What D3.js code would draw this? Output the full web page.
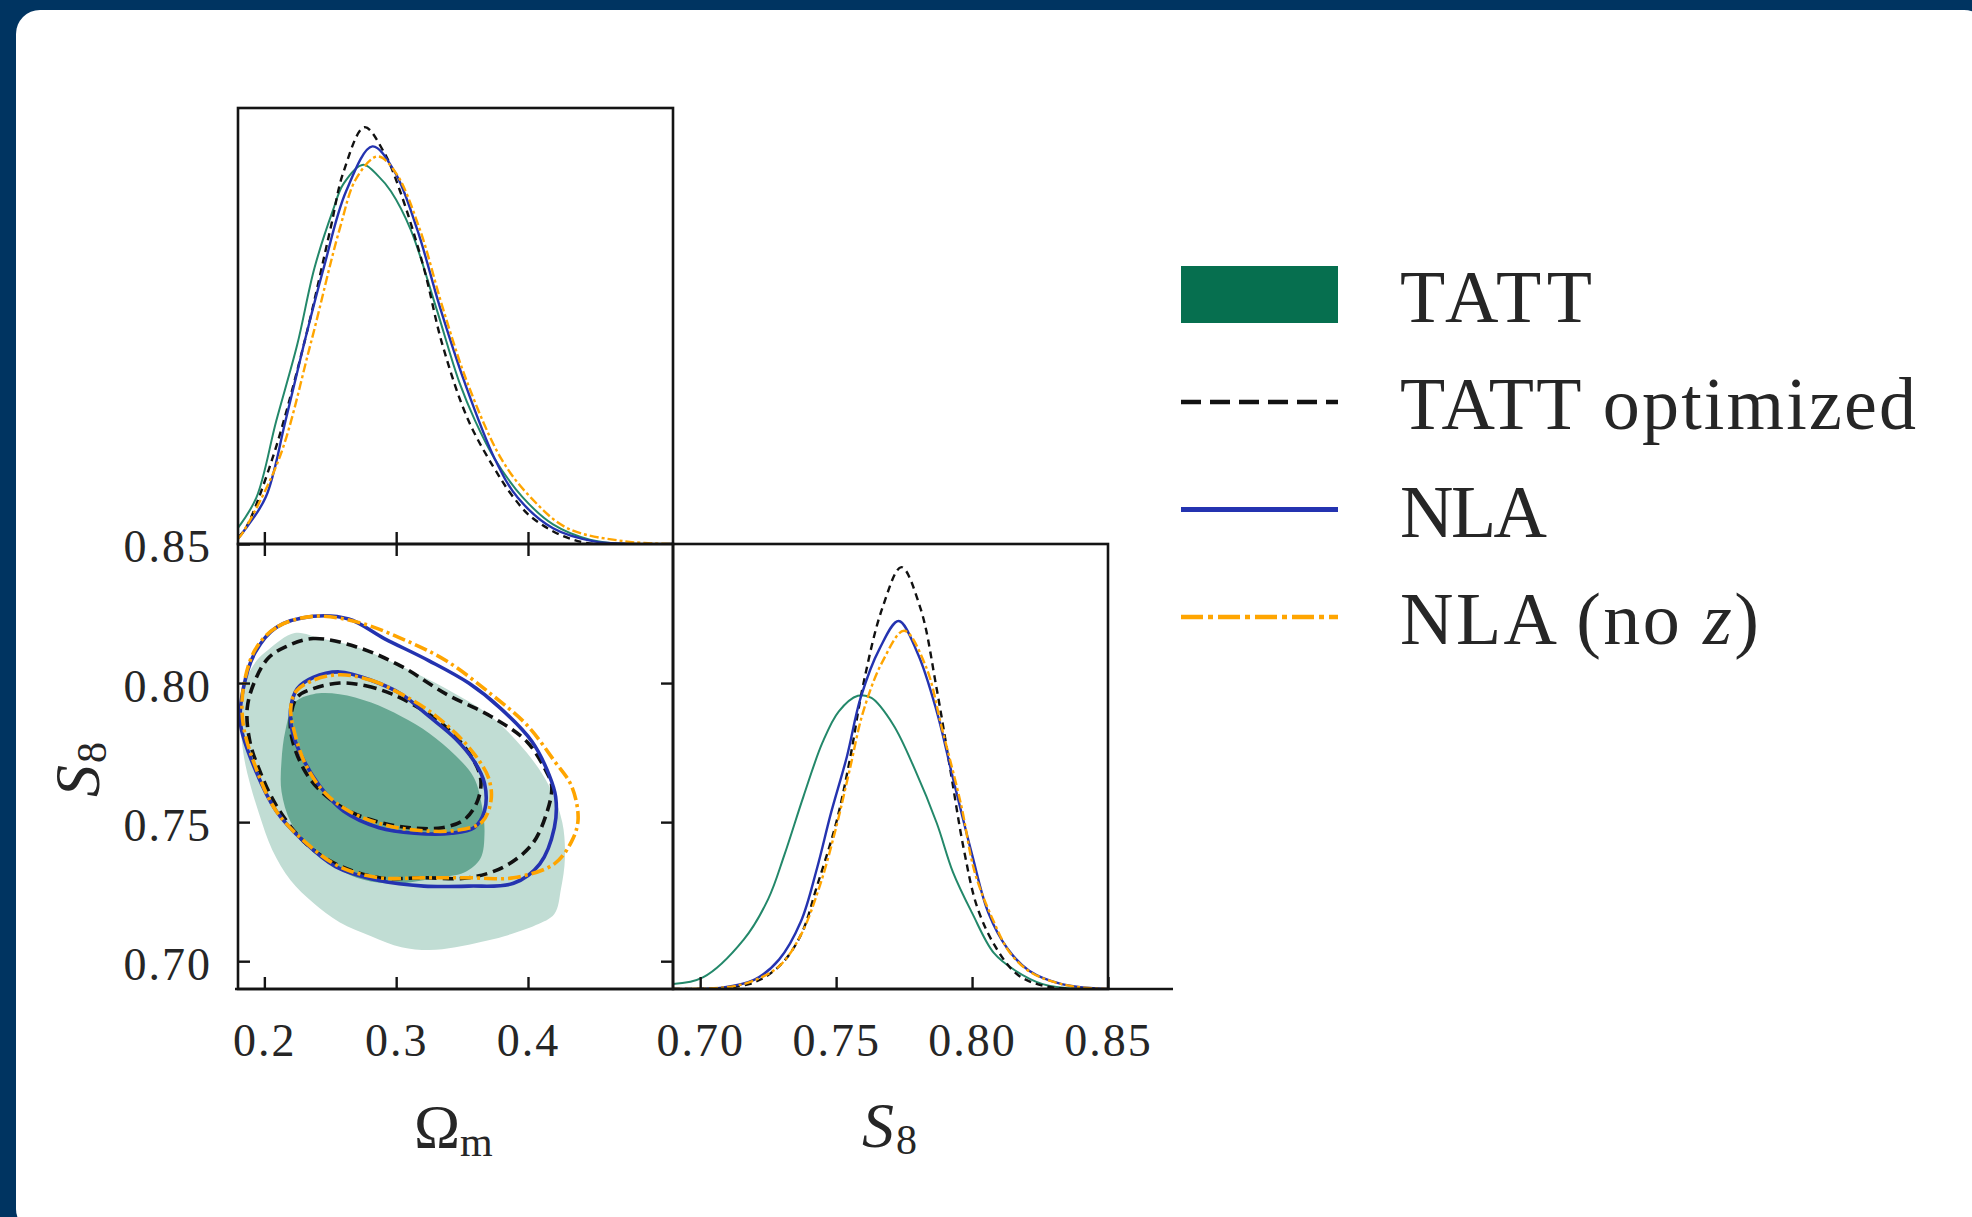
<!DOCTYPE html>
<html>
<head>
<meta charset="utf-8">
<script src="https://cdn.jsdelivr.net/npm/d3@7"></script>
<style>
  html, body { margin: 0; padding: 0; background: #003461; }
  svg { display: block; }
</style>
</head>
<body>
<svg id="chart" width="1972" height="1217"></svg>
<script>
// ---------------- data ----------------
const seriesNames = ["TATT", "TATT optimized", "NLA", "NLA (no z)"];

const omegaRange = [0.18, 0.51];
const s8Range = [0.69, 0.85];
const omegaTicks = [0.2, 0.3, 0.4];
const s8Ticks = [0.70, 0.75, 0.80, 0.85];

// 1D marginal of Omega_m: [Omega_m, relative density]
const omTATT = [[0.180,0.037],[0.194,0.107],[0.209,0.282],[0.225,0.458],[0.238,0.633],[0.252,0.765],[0.260,0.826],[0.275,0.870],[0.287,0.842],[0.296,0.809],[0.311,0.721],[0.330,0.545],[0.348,0.370],[0.360,0.282],[0.375,0.194],[0.396,0.107],[0.419,0.045],[0.447,0.010],[0.474,0.0],[0.510,0.0]];
const omOpt = [[0.180,0.015],[0.186,0.037],[0.206,0.195],[0.230,0.458],[0.250,0.721],[0.260,0.853],[0.276,0.956],[0.291,0.897],[0.303,0.809],[0.321,0.633],[0.335,0.458],[0.355,0.282],[0.379,0.151],[0.389,0.107],[0.402,0.063],[0.426,0.019],[0.450,0.0],[0.510,0.0]];
const omNLA = [[0.180,0.012],[0.184,0.028],[0.201,0.107],[0.216,0.282],[0.230,0.458],[0.245,0.633],[0.262,0.809],[0.282,0.912],[0.299,0.853],[0.316,0.721],[0.333,0.545],[0.352,0.370],[0.375,0.194],[0.392,0.107],[0.419,0.036],[0.450,0.006],[0.480,0.0],[0.510,0.0]];
const omNoZ = [[0.180,0.012],[0.184,0.028],[0.211,0.194],[0.235,0.458],[0.257,0.721],[0.270,0.840],[0.286,0.889],[0.300,0.850],[0.318,0.721],[0.335,0.545],[0.354,0.370],[0.380,0.194],[0.402,0.107],[0.430,0.036],[0.474,0.006],[0.510,0.0]];

// 1D marginal of S8: [S8, relative density]
const s8TATT = [[0.690,0.011],[0.701,0.026],[0.716,0.111],[0.725,0.202],[0.731,0.302],[0.738,0.433],[0.745,0.554],[0.751,0.624],[0.758,0.659],[0.763,0.654],[0.771,0.594],[0.779,0.493],[0.787,0.373],[0.793,0.262],[0.800,0.171],[0.808,0.081],[0.816,0.041],[0.826,0.011],[0.839,0.0],[0.850,0.0]];
const s8Opt = [[0.690,0.0],[0.718,0.011],[0.729,0.051],[0.737,0.121],[0.743,0.232],[0.750,0.373],[0.755,0.514],[0.760,0.685],[0.767,0.856],[0.774,0.948],[0.781,0.856],[0.787,0.674],[0.792,0.493],[0.797,0.313],[0.802,0.182],[0.809,0.091],[0.817,0.031],[0.828,0.005],[0.850,0.0]];
const s8NLA = [[0.690,0.0],[0.708,0.003],[0.720,0.021],[0.729,0.066],[0.737,0.151],[0.743,0.272],[0.748,0.393],[0.754,0.523],[0.759,0.654],[0.766,0.765],[0.773,0.827],[0.780,0.754],[0.787,0.624],[0.793,0.473],[0.800,0.302],[0.806,0.171],[0.813,0.091],[0.821,0.041],[0.833,0.011],[0.850,0.0]];
const s8NoZ = [[0.690,0.0],[0.708,0.003],[0.718,0.015],[0.729,0.051],[0.737,0.121],[0.744,0.232],[0.750,0.363],[0.755,0.493],[0.760,0.624],[0.767,0.735],[0.775,0.805],[0.783,0.725],[0.789,0.584],[0.796,0.413],[0.801,0.262],[0.808,0.151],[0.814,0.081],[0.822,0.036],[0.835,0.008],[0.850,0.0]];

// 2D credible regions in (Omega_m, S8): 68% and 95% contours
const tatt95 = [[0.203,0.812],[0.223,0.818],[0.243,0.816],[0.270,0.813],[0.304,0.806],[0.338,0.798],[0.372,0.788],[0.399,0.775],[0.416,0.763],[0.426,0.750],[0.428,0.737],[0.425,0.726],[0.420,0.717],[0.406,0.713],[0.382,0.709],[0.365,0.707],[0.345,0.705],[0.325,0.704],[0.304,0.705],[0.281,0.709],[0.257,0.714],[0.237,0.721],[0.220,0.729],[0.206,0.740],[0.196,0.753],[0.189,0.764],[0.184,0.775],[0.182,0.791],[0.186,0.801],[0.194,0.808]];
const tatt68 = [[0.223,0.793],[0.237,0.796],[0.257,0.796],[0.281,0.793],[0.304,0.788],[0.325,0.782],[0.345,0.774],[0.359,0.766],[0.365,0.756],[0.367,0.746],[0.364,0.737],[0.352,0.732],[0.331,0.730],[0.304,0.728],[0.291,0.728],[0.270,0.730],[0.250,0.735],[0.233,0.742],[0.220,0.750],[0.213,0.761],[0.213,0.772],[0.216,0.783]];
const opt95 = [[0.216,0.813],[0.237,0.816],[0.270,0.813],[0.304,0.806],[0.338,0.796],[0.372,0.788],[0.399,0.779],[0.413,0.769],[0.418,0.763],[0.414,0.753],[0.403,0.742],[0.382,0.734],[0.355,0.730],[0.321,0.730],[0.287,0.730],[0.254,0.735],[0.230,0.743],[0.209,0.756],[0.196,0.769],[0.189,0.779],[0.187,0.791],[0.193,0.801],[0.203,0.809]];
const opt68 = [[0.257,0.800],[0.277,0.799],[0.297,0.796],[0.321,0.790],[0.338,0.784],[0.355,0.775],[0.364,0.766],[0.362,0.758],[0.352,0.751],[0.335,0.748],[0.311,0.748],[0.287,0.750],[0.264,0.754],[0.243,0.761],[0.230,0.769],[0.221,0.780],[0.220,0.788],[0.225,0.795],[0.237,0.798]];
const nla95 = [[0.237,0.824],[0.209,0.820],[0.193,0.811],[0.184,0.798],[0.182,0.785],[0.193,0.769],[0.209,0.754],[0.230,0.743],[0.254,0.734],[0.287,0.729],[0.321,0.727],[0.355,0.727],[0.389,0.728],[0.409,0.735],[0.420,0.748],[0.421,0.759],[0.416,0.767],[0.403,0.779],[0.379,0.791],[0.355,0.800],[0.325,0.808],[0.291,0.816],[0.264,0.823]];
const nla68 = [[0.257,0.804],[0.281,0.801],[0.304,0.796],[0.325,0.788],[0.345,0.780],[0.359,0.772],[0.367,0.764],[0.367,0.754],[0.359,0.748],[0.342,0.746],[0.314,0.746],[0.287,0.748],[0.260,0.754],[0.242,0.763],[0.228,0.774],[0.221,0.783],[0.220,0.791],[0.225,0.798],[0.237,0.802]];
const noz95 = [[0.237,0.824],[0.209,0.820],[0.193,0.812],[0.184,0.798],[0.184,0.785],[0.194,0.769],[0.209,0.754],[0.233,0.742],[0.257,0.734],[0.287,0.730],[0.321,0.730],[0.355,0.730],[0.389,0.730],[0.420,0.735],[0.433,0.743],[0.438,0.751],[0.433,0.763],[0.420,0.772],[0.399,0.785],[0.372,0.796],[0.338,0.808],[0.304,0.816],[0.270,0.822]];
const noz68 = [[0.257,0.803],[0.281,0.801],[0.304,0.796],[0.325,0.790],[0.345,0.782],[0.360,0.774],[0.370,0.766],[0.372,0.758],[0.365,0.750],[0.345,0.747],[0.318,0.747],[0.291,0.749],[0.264,0.754],[0.245,0.761],[0.231,0.771],[0.223,0.782],[0.220,0.791],[0.224,0.797],[0.237,0.801]];

// ---------------- styles ----------------
const SERIF = "'Liberation Serif', 'Times New Roman', serif";
const TEXT = "#262626";
const lineStyles = {
  tatt: { stroke: "#23886a", width1d: 2.0 },
  opt:  { stroke: "#111111", width1d: 2.4, width2d: 3.6, dash1d: "7,5", dash2d: "11,6", dashLeg: "20,9", widthLeg: 4.5 },
  nla:  { stroke: "#2433b0", width1d: 2.4, width2d: 3.6, dash1d: null, dash2d: null, dashLeg: null, widthLeg: 5 },
  noz:  { stroke: "#ffa500", width1d: 2.4, width2d: 3.6, dash1d: "9,3,3,3", dash2d: "13,4,3,4", dashLeg: "22,5,5,5", widthLeg: 4.5 }
};
const fillLight = "#c1ddd4", fillDark = "#67a893", legendGreen = "#066f4f";

// ---------------- layout ----------------
const W = 1972, H = 1217;
const L = 238, M = 673, R = 1108, T = 108, MY = 544, B = 989;

const svg = d3.select("#chart");
svg.append("rect").attr("width", W).attr("height", H).attr("fill", "#003461");
svg.append("rect").attr("x", 16).attr("y", 10).attr("width", W).attr("height", H + 6)
   .attr("rx", 24).attr("fill", "#ffffff");

const xOm = d3.scaleLinear().domain(omegaRange).range([L, M]);
const yS8 = d3.scaleLinear().domain(s8Range).range([B, MY]);
const xS8 = d3.scaleLinear().domain(s8Range).range([M, R]);
const yTop = d3.scaleLinear().domain([0, 1]).range([MY, T]);
const yRight = d3.scaleLinear().domain([0, 1]).range([B, MY]);

const defs = svg.append("defs");
function clip(id, x, y, w, h) {
  defs.append("clipPath").attr("id", id).append("rect")
    .attr("x", x).attr("y", y).attr("width", w).attr("height", h);
}
clip("clipTop", L, T, M - L, MY - T);
clip("clip2d", L, MY, M - L, B - MY);
clip("clipRight", M, MY, R - M, B - MY);

// ---------------- 2D panel ----------------
const g2 = svg.append("g").attr("clip-path", "url(#clip2d)");
const contour = d3.line().x(d => xOm(d[0])).y(d => yS8(d[1]))
  .curve(d3.curveCatmullRomClosed.alpha(0.5));

g2.append("path").attr("d", contour(tatt95)).attr("fill", fillLight);
g2.append("path").attr("d", contour(tatt68)).attr("fill", fillDark);

[[opt95, opt68, lineStyles.opt], [nla95, nla68, lineStyles.nla], [noz95, noz68, lineStyles.noz]]
  .forEach(([c95, c68, st]) => {
    [c95, c68].forEach(c => {
      g2.append("path").attr("d", contour(c))
        .attr("fill", "none").attr("stroke", st.stroke)
        .attr("stroke-width", st.width2d)
        .attr("stroke-dasharray", st.dash2d)
        .attr("stroke-linejoin", "round");
    });
  });

// ---------------- 1D panels ----------------
const gTop = svg.append("g").attr("clip-path", "url(#clipTop)");
const gRight = svg.append("g").attr("clip-path", "url(#clipRight)");
const lineTop = d3.line().x(d => xOm(d[0])).y(d => yTop(d[1])).curve(d3.curveCatmullRom.alpha(0.5));
const lineRight = d3.line().x(d => xS8(d[0])).y(d => yRight(d[1])).curve(d3.curveCatmullRom.alpha(0.5));

[[omTATT, s8TATT, lineStyles.tatt], [omOpt, s8Opt, lineStyles.opt],
 [omNLA, s8NLA, lineStyles.nla], [omNoZ, s8NoZ, lineStyles.noz]]
  .forEach(([om, s8, st]) => {
    gTop.append("path").attr("d", lineTop(om)).attr("fill", "none")
      .attr("stroke", st.stroke).attr("stroke-width", st.width1d)
      .attr("stroke-dasharray", st.dash1d || null);
    gRight.append("path").attr("d", lineRight(s8)).attr("fill", "none")
      .attr("stroke", st.stroke).attr("stroke-width", st.width1d)
      .attr("stroke-dasharray", st.dash1d || null);
  });

// ---------------- frames ----------------
const frame = svg.append("g").attr("fill", "none").attr("stroke", "#141414").attr("stroke-width", 2.6);
frame.append("rect").attr("x", L).attr("y", T).attr("width", M - L).attr("height", MY - T);
frame.append("rect").attr("x", L).attr("y", MY).attr("width", M - L).attr("height", B - MY);
frame.append("rect").attr("x", M).attr("y", MY).attr("width", R - M).attr("height", B - MY);
frame.append("line").attr("x1", L - 3).attr("x2", 1173).attr("y1", B).attr("y2", B);

// ---------------- axes ----------------
const TICK = 12;
function styleAxis(g, dy) {
  g.attr("color", "#141414");
  g.select(".domain").remove();
  g.selectAll(".tick line").attr("stroke-width", 2.4);
  g.selectAll(".tick text")
    .attr("font-family", SERIF).attr("font-size", 46)
    .attr("letter-spacing", "2px").attr("fill", TEXT);
  if (dy) g.selectAll(".tick text").attr("dy", dy);
}
const fmtS8 = d3.format(".2f"), fmtOm = d3.format(".1f");

svg.append("g").attr("transform", `translate(${L},0)`)
  .call(d3.axisLeft(yS8).tickValues(s8Ticks).tickFormat(fmtS8)
        .tickSizeInner(-TICK).tickSizeOuter(0).tickPadding(26))
  .call(g => styleAxis(g, "0.39em"));
svg.append("g").attr("transform", `translate(${M},0)`)
  .call(d3.axisRight(yS8).tickValues(s8Ticks.slice(0, 3)).tickFormat("")
        .tickSizeInner(-TICK).tickSizeOuter(0))
  .call(g => styleAxis(g));
svg.append("g").attr("transform", `translate(0,${B})`)
  .call(d3.axisBottom(xOm).tickValues(omegaTicks).tickFormat(fmtOm)
        .tickSizeInner(-TICK).tickSizeOuter(0).tickPadding(34))
  .call(g => styleAxis(g));
svg.append("g").attr("transform", `translate(0,${MY})`)
  .call(d3.axisTop(xOm).tickValues(omegaTicks).tickFormat("")
        .tickSizeInner(-TICK).tickSizeOuter(0))
  .call(g => styleAxis(g));
svg.append("g").attr("transform", `translate(0,${MY})`)
  .call(d3.axisBottom(xOm).tickValues(omegaTicks).tickFormat("")
        .tickSizeInner(-TICK).tickSizeOuter(0))
  .call(g => styleAxis(g));
svg.append("g").attr("transform", `translate(0,${B})`)
  .call(d3.axisBottom(xS8).tickValues(s8Ticks).tickFormat(fmtS8)
        .tickSizeInner(-TICK).tickSizeOuter(0).tickPadding(34))
  .call(g => styleAxis(g));

// ---------------- axis titles ----------------
const omLabel = svg.append("text").attr("x", 414).attr("y", 1147)
  .attr("font-family", SERIF).attr("font-size", 62).attr("fill", TEXT);
omLabel.append("tspan").text("Ω");
omLabel.append("tspan").attr("font-size", 42).attr("dy", 9).text("m");

const s8Label = svg.append("text").attr("x", 862).attr("y", 1147)
  .attr("font-family", SERIF).attr("font-size", 64).attr("fill", TEXT);
s8Label.append("tspan").attr("font-style", "italic").text("S");
s8Label.append("tspan").attr("font-size", 42).attr("dy", 7).attr("dx", 2).text("8");

const s8Side = svg.append("text").attr("transform", "translate(99,797) rotate(-90)")
  .attr("font-family", SERIF).attr("font-size", 64).attr("fill", TEXT);
s8Side.append("tspan").attr("font-style", "italic").text("S");
s8Side.append("tspan").attr("font-size", 42).attr("dy", 7).attr("dx", 2).text("8");

// ---------------- legend ----------------
const LX0 = 1181, LX1 = 1338, TX = 1400;
const rowY = [294.5, 402, 509.5, 617];
const textLen = [192, 516, 147, 359];
const leg = svg.append("g");
leg.append("rect").attr("x", LX0).attr("y", 266).attr("width", LX1 - LX0).attr("height", 57)
  .attr("fill", legendGreen);
[lineStyles.opt, lineStyles.nla, lineStyles.noz].forEach((st, i) => {
  leg.append("line").attr("x1", LX0).attr("x2", LX1)
    .attr("y1", rowY[i + 1]).attr("y2", rowY[i + 1])
    .attr("stroke", st.stroke).attr("stroke-width", st.widthLeg)
    .attr("stroke-dasharray", st.dashLeg);
});
seriesNames.forEach((name, i) => {
  const t = leg.append("text").attr("x", TX).attr("y", rowY[i] + 27)
    .attr("font-family", SERIF).attr("font-size", 74).attr("fill", TEXT)
    .attr("textLength", textLen[i]).attr("lengthAdjust", "spacing");
  if (name.endsWith("z)")) {
    t.append("tspan").text("NLA (no ");
    t.append("tspan").attr("font-style", "italic").text("z");
    t.append("tspan").text(")");
  } else {
    t.text(name);
  }
});
</script>
</body>
</html>
